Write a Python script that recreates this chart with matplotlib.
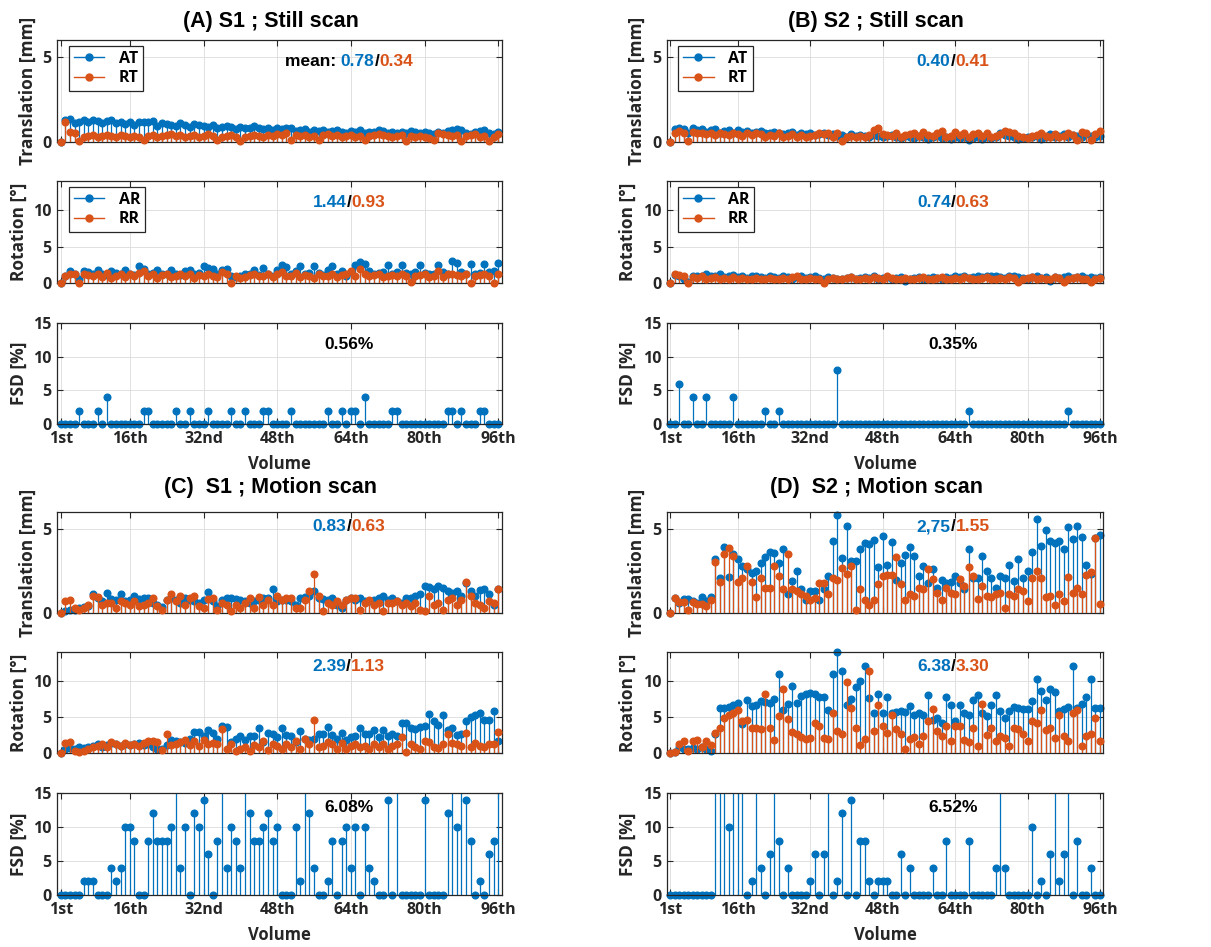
import numpy as np
import matplotlib
matplotlib.use("Agg")
import matplotlib.pyplot as plt
from matplotlib.lines import Line2D
from matplotlib.legend_handler import HandlerLine2D
from matplotlib.offsetbox import TextArea, HPacker, AnchoredOffsetbox

BLUE = '#0072BD'
ORANGE = '#D95319'

volumes = np.arange(1, 97)
tick_pos = [1, 16, 32, 48, 64, 80, 96]
tick_labels = ['1st', '16th', '32nd', '48th', '64th', '80th', '96th']

# ---- (A) S1 still scan ----
A_AT = [0, 1.3, 1.35, 1.1, 1.2, 1.3, 1.15, 1.3, 1.25, 1.1, 1.25, 1.3, 1.1, 1.2, 1.05, 1.15,
        1.0, 1.2, 1.15, 1.2, 1.25, 0.95, 1.1, 1.05, 1.0, 0.95, 1.1, 1.0, 0.9, 1.05, 1.0, 0.95,
        0.9, 1.0, 0.85, 0.9, 0.95, 0.9, 0.75, 0.9, 0.85, 0.8, 0.95, 0.8, 0.75, 0.85, 0.7, 0.8,
        0.75, 0.8, 0.85, 0.65, 0.7, 0.75, 0.6, 0.7, 0.65, 0.7, 0.6, 0.65, 0.7, 0.6, 0.55, 0.65,
        0.6, 0.7, 0.55, 0.6, 0.6, 0.7, 0.65, 0.5, 0.6, 0.55, 0.6, 0.5, 0.65, 0.6, 0.55, 0.6,
        0.5, 0.45, 0.6, 0.55, 0.65, 0.7, 0.75, 0.7, 0.5, 0.45, 0.6, 0.65, 0.7, 0.5, 0.45, 0.6]
A_RT = [0, 1.2, 0.6, 0.5, 0.05, 0.3, 0.35, 0.4, 0.3, 0.35, 0.4, 0.35, 0.3, 0.4, 0.35, 0.3,
        0.35, 0.3, 0.1, 0.35, 0.4, 0.3, 0.35, 0.4, 0.45, 0.35, 0.4, 0.3, 0.35, 0.4, 0.3, 0.35,
        0.45, 0.35, 0.1, 0.3, 0.35, 0.4, 0.3, 0.05, 0.3, 0.35, 0.4, 0.35, 0.3, 0.4, 0.35, 0.45,
        0.4, 0.5, 0.1, 0.4, 0.35, 0.4, 0.3, 0.35, 0.1, 0.4, 0.45, 0.35, 0.4, 0.3, 0.35, 0.4,
        0.3, 0.35, 0.1, 0.35, 0.4, 0.45, 0.4, 0.35, 0.3, 0.35, 0.4, 0.05, 0.35, 0.3, 0.35, 0.3,
        0.25, 0.1, 0.5, 0.45, 0.4, 0.35, 0.4, 0.05, 0.35, 0.4, 0.45, 0.3, 0.35, 0.05, 0.3, 0.45]
A_AR = [0, 1.0, 1.7, 1.2, 0.6, 1.7, 1.5, 1.2, 1.8, 1.3, 1.1, 1.7, 1.4, 1.2, 1.8, 1.3,
        1.1, 2.3, 1.9, 1.2, 1.4, 1.8, 1.3, 1.2, 1.8, 1.3, 1.1, 1.6, 1.8, 1.2, 1.4, 2.3,
        2.0, 1.9, 1.3, 1.8, 1.9, 0.9, 0.8, 1.0, 1.3, 1.2, 1.8, 1.1, 2.0, 1.3, 1.0, 1.8,
        2.5, 2.2, 1.3, 1.6, 2.3, 1.2, 1.4, 2.3, 1.4, 1.1, 1.8, 2.4, 1.3, 1.6, 1.0, 1.5,
        2.5, 2.9, 2.6, 1.6, 1.3, 1.4, 1.5, 2.5, 1.3, 1.5, 2.5, 1.4, 1.3, 1.5, 2.5, 1.4,
        1.2, 1.3, 2.5, 1.5, 1.3, 3.0, 2.7, 1.5, 1.2, 2.6, 1.3, 1.4, 2.6, 1.5, 1.6, 2.7]
A_RR = [0, 1.0, 1.2, 1.3, 0.05, 1.3, 1.1, 0.9, 1.2, 0.8, 1.4, 0.7, 1.0, 1.3, 0.8, 1.2,
        0.9, 1.4, 1.6, 0.9, 1.2, 0.7, 1.1, 1.3, 0.8, 1.0, 1.2, 0.9, 1.3, 0.7, 1.1, 0.9,
        1.3, 1.0, 0.8, 1.5, 1.2, 0.05, 0.9, 0.7, 0.8, 1.1, 1.2, 0.9, 1.0, 1.3, 0.8, 1.2,
        1.5, 1.0, 0.9, 1.4, 0.8, 1.1, 1.0, 0.7, 1.2, 1.0, 0.9, 1.3, 0.8, 1.1, 1.2, 1.7,
        1.0, 1.9, 1.2, 0.9, 1.1, 1.2, 0.8, 1.0, 1.1, 1.0, 1.2, 0.9, 0.1, 0.9, 1.1, 1.2,
        0.8, 1.0, 1.6, 0.8, 1.3, 1.2, 1.1, 0.9, 1.2, 0.05, 0.9, 1.1, 1.3, 0.9, 0.05, 1.2]
A_FSD = [0, 0, 0, 0, 2, 0, 0, 0, 2, 0, 4, 0, 0, 0, 0, 0,
         0, 0, 2, 2, 0, 0, 0, 0, 0, 2, 0, 0, 2, 0, 0, 0,
         2, 0, 0, 0, 0, 2, 0, 0, 2, 0, 0, 0, 2, 2, 0, 0,
         0, 0, 2, 0, 0, 0, 0, 0, 0, 0, 2, 0, 0, 2, 0, 2,
         2, 0, 4, 0, 0, 0, 0, 0, 2, 2, 0, 0, 0, 0, 0, 0,
         0, 0, 0, 0, 2, 2, 0, 2, 0, 0, 0, 2, 2, 0, 0, 0]

# ---- (B) S2 still scan ----
B_AT = [0, 0.75, 0.8, 0.75, 0.5, 0.8, 0.7, 0.75, 0.6, 0.7, 0.75, 0.5, 0.65, 0.7, 0.55, 0.7,
        0.6, 0.65, 0.55, 0.6, 0.65, 0.55, 0.5, 0.6, 0.55, 0.45, 0.5, 0.6, 0.4, 0.5, 0.45, 0.5,
        0.4, 0.45, 0.5, 0.4, 0.45, 0.35, 0.4, 0.3, 0.45, 0.35, 0.4, 0.35, 0.3, 0.4, 0.35, 0.3,
        0.35, 0.4, 0.3, 0.25, 0.35, 0.3, 0.25, 0.35, 0.3, 0.2, 0.3, 0.35, 0.25, 0.3, 0.2, 0.3,
        0.25, 0.3, 0.1, 0.25, 0.3, 0.2, 0.3, 0.25, 0.3, 0.5, 0.4, 0.35, 0.3, 0.2, 0.25, 0.3,
        0.3, 0.35, 0.2, 0.3, 0.45, 0.3, 0.35, 0.45, 0.3, 0.4, 0.35, 0.3, 0.45, 0.35, 0.3, 0.35]
B_RT = [0, 0.55, 0.65, 0.55, 0.05, 0.6, 0.55, 0.5, 0.45, 0.55, 0.4, 0.5, 0.45, 0.4, 0.5, 0.45,
        0.35, 0.5, 0.4, 0.55, 0.45, 0.3, 0.4, 0.35, 0.5, 0.3, 0.35, 0.45, 0.3, 0.4, 0.3, 0.35,
        0.4, 0.5, 0.45, 0.55, 0.3, 0.55, 0.05, 0.3, 0.35, 0.3, 0.35, 0.3, 0.4, 0.7, 0.8, 0.45,
        0.4, 0.35, 0.5, 0.3, 0.4, 0.45, 0.5, 0.35, 0.6, 0.4, 0.35, 0.5, 0.65, 0.3, 0.35, 0.6,
        0.4, 0.55, 0.3, 0.45, 0.5, 0.35, 0.55, 0.3, 0.35, 0.45, 0.65, 0.6, 0.5, 0.35, 0.3, 0.25,
        0.35, 0.4, 0.5, 0.35, 0.3, 0.45, 0.3, 0.35, 0.5, 0.4, 0.1, 0.6, 0.55, 0.1, 0.45, 0.65]
B_AR = [0, 1.1, 1.0, 0.6, 0.1, 1.0, 0.9, 1.0, 1.2, 0.9, 1.0, 1.2, 0.8, 0.9, 1.1, 0.8,
        1.0, 0.7, 0.9, 1.0, 0.8, 0.7, 0.9, 0.8, 0.7, 0.9, 0.8, 0.6, 0.8, 0.9, 0.7, 0.8,
        0.9, 0.7, 0.6, 0.8, 0.7, 0.6, 0.5, 0.7, 0.8, 0.6, 0.7, 0.8, 0.7, 0.9, 0.6, 0.7,
        0.8, 0.6, 0.7, 0.8, 0.3, 0.6, 0.7, 0.8, 0.6, 0.7, 0.8, 0.7, 0.6, 0.8, 0.7, 0.9,
        0.8, 0.9, 0.7, 0.8, 0.9, 0.8, 0.9, 1.0, 0.9, 0.8, 0.7, 1.0, 0.9, 0.8, 0.7, 0.6,
        0.8, 0.9, 0.7, 0.8, 0.3, 0.8, 0.7, 0.8, 0.9, 0.7, 0.8, 0.9, 0.7, 0.8, 0.7, 0.8]
B_RR = [0, 1.2, 1.1, 0.9, 0.05, 0.8, 0.7, 0.9, 0.6, 0.7, 0.8, 0.6, 0.7, 0.5, 0.8, 0.6,
        0.7, 0.6, 0.5, 0.7, 0.6, 0.5, 0.7, 0.6, 0.5, 0.7, 0.6, 0.8, 0.9, 0.6, 0.5, 0.7,
        0.6, 0.5, 0.05, 0.6, 0.7, 0.5, 0.6, 0.7, 0.8, 0.6, 0.5, 0.7, 0.6, 0.8, 0.7, 0.6,
        0.9, 0.7, 0.5, 0.6, 0.7, 0.5, 0.6, 0.7, 0.8, 0.6, 0.5, 0.7, 0.8, 0.6, 0.5, 0.7,
        0.6, 0.8, 0.7, 0.6, 0.5, 0.7, 0.8, 0.6, 0.5, 0.7, 0.6, 0.8, 0.7, 0.1, 0.6, 0.7,
        0.8, 0.6, 0.7, 0.5, 0.6, 0.8, 0.7, 0.1, 0.6, 0.7, 0.8, 0.6, 0.5, 0.1, 0.6, 0.7]
B_FSD = [0, 0, 6, 0, 0, 4, 0, 0, 4, 0, 0, 0, 0, 0, 4, 0,
         0, 0, 0, 0, 0, 2, 0, 0, 2, 0, 0, 0, 0, 0, 0, 0,
         0, 0, 0, 0, 0, 8, 0, 0, 0, 0, 0, 0, 0, 0, 0, 0,
         0, 0, 0, 0, 0, 0, 0, 0, 0, 0, 0, 0, 0, 0, 0, 0,
         0, 0, 2, 0, 0, 0, 0, 0, 0, 0, 0, 0, 0, 0, 0, 0,
         0, 0, 0, 0, 0, 0, 0, 0, 2, 0, 0, 0, 0, 0, 0, 0]

# ---- (C) S1 motion scan ----
C_AT = [0, 0.1, 0.15, 0.2, 0.3, 0.35, 0.4, 1.15, 0.9, 0.7, 1.2, 0.85, 0.8, 1.15, 0.7, 0.8,
        1.0, 0.85, 0.9, 0.9, 0.6, 0.5, 0.35, 0.8, 0.9, 0.8, 0.6, 0.9, 0.8, 0.7, 0.6, 0.8,
        1.25, 0.7, 0.4, 0.8, 0.9, 0.9, 0.85, 0.8, 0.7, 0.6, 0.7, 0.8, 0.9, 0.9, 1.4, 0.7,
        0.8, 0.8, 0.7, 0.5, 0.9, 0.95, 1.0, 1.3, 0.9, 0.85, 0.8, 0.9, 0.5, 0.3, 0.8, 0.9,
        0.8, 0.9, 0.7, 0.7, 0.8, 0.9, 1.0, 0.8, 0.9, 0.7, 0.6, 0.9, 0.9, 1.0, 1.1, 1.6,
        1.55, 1.4, 1.6, 1.5, 1.3, 1.2, 1.3, 1.0, 1.8, 1.3, 1.0, 1.35, 1.45, 1.1, 0.5, 1.45]
C_RT = [0, 0.7, 0.75, 0.3, 0.2, 0.3, 0.45, 1.0, 0.95, 0.5, 0.6, 0.6, 0.3, 0.7, 0.6, 0.5,
        0.7, 0.4, 0.5, 0.6, 0.9, 0.4, 0.15, 0.8, 1.1, 0.7, 1.0, 0.5, 0.9, 1.0, 0.4, 0.3,
        0.85, 0.9, 0.2, 0.6, 0.5, 0.1, 0.5, 0.3, 0.6, 0.9, 0.3, 0.95, 0.5, 0.8, 0.5, 1.0,
        0.8, 0.9, 0.9, 0.3, 0.3, 0.8, 1.3, 2.3, 1.0, 0.1, 0.6, 0.5, 0.7, 0.5, 0.8, 0.9,
        0.9, 0.2, 0.6, 0.8, 0.5, 0.6, 0.1, 0.6, 0.6, 0.7, 0.5, 0.6, 0.4, 0.6, 0.2, 0.1,
        1.0, 0.5, 0.6, 0.2, 0.8, 0.9, 0.5, 0.8, 1.85, 1.0, 0.6, 0.5, 0.3, 0.7, 0.6, 1.4]
C_AR = [0, 0.5, 0.7, 0.6, 0.8, 0.7, 0.9, 1.0, 1.2, 0.9, 1.1, 1.4, 1.2, 1.0, 1.3, 1.1,
        1.2, 1.4, 1.1, 1.3, 0.9, 0.6, 0.5, 1.1, 1.8, 1.6, 1.5, 1.4, 2.0, 2.9, 2.9, 2.4,
        3.2, 2.8, 2.0, 3.8, 3.6, 1.5, 1.9, 2.3, 1.8, 2.4, 2.3, 3.5, 1.5, 2.8, 2.6, 2.2,
        3.5, 2.5, 2.3, 1.5, 3.1, 2.0, 1.8, 1.9, 2.7, 2.6, 3.6, 2.5, 2.0, 2.8, 1.8, 2.2,
        2.4, 3.4, 2.6, 2.7, 3.2, 2.2, 3.2, 2.4, 2.6, 2.3, 4.1, 4.2, 3.4, 3.3, 3.6, 3.8,
        5.4, 4.4, 3.9, 5.2, 3.2, 3.4, 2.5, 2.7, 4.5, 5.0, 5.3, 5.6, 4.6, 4.6, 5.8, 1.7]
C_RR = [0, 1.4, 1.5, 0.3, 0.2, 0.3, 0.5, 0.8, 1.0, 1.2, 0.9, 1.5, 1.2, 1.0, 1.4, 1.1,
        1.3, 1.0, 1.4, 1.7, 1.6, 1.5, 0.4, 2.6, 1.1, 1.2, 1.5, 1.8, 1.1, 1.6, 1.0, 1.8,
        1.3, 1.4, 1.2, 3.3, 0.6, 1.2, 0.3, 0.5, 0.8, 0.3, 1.1, 0.9, 1.6, 0.4, 1.2, 1.0,
        0.6, 1.3, 0.8, 1.6, 0.6, 2.0, 1.2, 4.6, 0.8, 1.0, 1.5, 1.3, 0.6, 1.4, 0.5, 1.0,
        1.2, 0.8, 1.0, 0.6, 1.3, 0.9, 1.2, 0.5, 1.0, 1.2, 2.2, 0.2, 1.2, 0.8, 0.5, 1.6,
        1.5, 0.9, 0.7, 1.2, 2.6, 1.4, 1.2, 1.0, 2.8, 0.8, 1.4, 1.0, 0.8, 1.2, 1.3, 2.9]
C_FSD = [0, 0, 0, 0, 0, 2, 2, 2, 0, 0, 0, 4, 2, 4, 10, 10,
         8, 0, 0, 8, 12, 8, 8, 8, 10, 18, 4, 10, 0, 12, 10, 14,
         6, 0, 8, 20, 4, 10, 8, 4, 22, 12, 8, 8, 10, 12, 8, 10,
         0, 0, 0, 10, 2, 18, 12, 4, 0, 0, 2, 8, 0, 8, 10, 4,
         10, 0, 10, 4, 2, 0, 0, 14, 0, 20, 0, 0, 0, 0, 0, 14,
         0, 0, 0, 0, 12, 18, 10, 20, 14, 8, 0, 2, 0, 6, 8, 18]

# ---- (D) S2 motion scan ----
D_AT = [0, 0.9, 0.6, 0.85, 0.85, 0.7, 0.6, 0.95, 0.7, 0.95, 3.2, 2.1, 3.9, 2.15, 3.5, 3.2,
        2.8, 2.6, 2.4, 2.5, 2.95, 3.3, 3.65, 3.55, 3.0, 3.8, 1.1, 1.9, 2.5, 1.4, 0.75, 1.3,
        1.3, 0.8, 1.4, 2.2, 4.3, 5.85, 3.25, 5.15, 3.1, 3.1, 3.8, 4.15, 4.1, 4.35, 2.75, 4.55,
        2.85, 4.2, 1.95, 3.0, 3.45, 3.95, 3.4, 2.2, 2.8, 1.8, 2.6, 1.5, 1.95, 1.8, 1.85, 2.2,
        1.8, 1.4, 3.8, 2.1, 2.1, 3.4, 2.5, 2.1, 1.5, 2.2, 2.1, 2.85, 1.9, 3.2, 2.1, 2.5,
        3.6, 5.6, 4.0, 4.95, 4.3, 4.15, 4.3, 3.8, 5.1, 4.4, 5.15, 4.5, 2.85, 2.3, 4.45, 4.65]
D_RT = [0, 0.9, 0.65, 0.65, 0.15, 0.65, 0.55, 0.55, 0.4, 0.8, 3.05, 1.85, 3.5, 3.85, 3.4, 1.85,
        2.1, 2.8, 1.85, 0.95, 2.05, 1.5, 1.5, 2.8, 2.2, 1.4, 3.5, 1.4, 1.3, 1.15, 1.0, 0.8,
        0.9, 1.8, 1.8, 1.15, 2.1, 1.95, 2.7, 2.3, 2.8, 0.2, 1.4, 0.8, 0.5, 0.75, 1.75, 2.2,
        2.25, 2.25, 3.3, 1.75, 0.8, 1.1, 1.0, 1.5, 1.4, 2.6, 2.0, 1.2, 0.75, 1.5, 1.2, 1.1,
        2.0, 1.6, 2.75, 2.2, 0.85, 1.6, 1.0, 0.95, 1.1, 1.2, 0.3, 1.1, 1.0, 1.45, 1.3, 0.7,
        2.1, 2.5, 2.05, 0.95, 1.0, 0.5, 1.15, 0.7, 2.15, 1.2, 1.5, 1.1, 2.25, 2.45, 4.45, 0.55]
D_AR = [0, 0.1, 0.8, 0.6, 0.6, 0.7, 0.5, 0.9, 0.5, 0.3, 2.7, 6.3, 6.3, 6.4, 6.6, 7.0,
        4.0, 7.3, 6.5, 6.6, 7.2, 7.1, 7.0, 7.5, 11.0, 5.9, 6.8, 9.3, 7.0, 7.9, 8.2, 8.3,
        8.2, 7.8, 7.8, 6.0, 11.0, 14.0, 11.3, 6.6, 7.5, 9.2, 10.0, 12.0, 7.6, 5.6, 8.2, 5.6,
        7.7, 5.6, 5.7, 5.8, 5.7, 6.5, 5.2, 5.5, 5.3, 8.0, 4.6, 4.9, 4.1, 7.7, 6.7, 4.4,
        6.7, 5.5, 5.2, 7.4, 8.1, 5.5, 5.1, 6.6, 8.1, 5.8, 4.8, 5.8, 6.4, 6.3, 6.1, 6.1,
        7.2, 10.3, 8.6, 7.4, 8.9, 8.4, 5.8, 6.1, 6.4, 12.0, 6.2, 6.8, 7.7, 10.3, 6.3, 6.3]
D_RR = [0, 0.1, 1.3, 1.6, 0.3, 1.7, 1.8, 0.8, 1.6, 1.1, 2.8, 3.5, 4.9, 5.3, 5.6, 6.0,
        4.5, 4.6, 3.4, 3.4, 3.3, 8.2, 3.4, 1.8, 5.1, 8.9, 4.7, 2.9, 2.6, 2.2, 1.9, 2.1,
        4.2, 3.8, 2.1, 1.9, 5.6, 3.0, 2.7, 9.9, 6.2, 3.5, 1.1, 1.9, 11.3, 3.0, 6.6, 3.7,
        2.8, 5.3, 3.3, 2.6, 0.5, 2.0, 2.2, 1.3, 2.3, 4.4, 6.1, 3.1, 2.4, 3.7, 1.7, 3.8,
        3.7, 1.8, 1.5, 3.5, 1.0, 6.8, 2.5, 3.5, 1.6, 2.3, 2.1, 1.0, 3.4, 3.3, 2.7, 1.6,
        4.5, 4.2, 5.9, 3.2, 3.4, 2.1, 5.3, 2.3, 1.6, 5.6, 6.0, 1.0, 2.3, 2.7, 4.9, 1.6]
D_FSD = [0, 0, 0, 0, 0, 0, 0, 0, 0, 0, 40, 52, 46, 10, 54, 48,
         42, 0, 2, 30, 4, 0, 6, 28, 8, 0, 4, 0, 0, 0, 0, 2,
         6, 0, 6, 26, 0, 2, 12, 0, 14, 0, 8, 8, 2, 0, 2, 2,
         2, 0, 0, 6, 0, 4, 0, 0, 0, 0, 4, 0, 0, 8, 0, 0,
         0, 0, 8, 0, 0, 0, 0, 0, 4, 30, 4, 0, 0, 0, 0, 0,
         10, 0, 2, 0, 6, 28, 2, 6, 26, 0, 8, 0, 0, 4, 0, 0]

titles = ['(A) S1 ; Still scan', '(B) S2 ; Still scan',
          '(C)  S1 ; Motion scan', '(D)  S2 ; Motion scan']
means_t = [('0.78', '0.34'), ('0.40', '0.41'), ('0.83', '0.63'), ('2,75', '1.55')]
means_r = [('1.44', '0.93'), ('0.74', '0.63'), ('2.39', '1.13'), ('6.38', '3.30')]
means_fsd = ['0.56%', '0.35%', '6.08%', '6.52%']

panels = [(A_AT, A_RT, A_AR, A_RR, A_FSD), (B_AT, B_RT, B_AR, B_RR, B_FSD),
          (C_AT, C_RT, C_AR, C_RR, C_FSD), (D_AT, D_RT, D_AR, D_RR, D_FSD)]

W, H = 1211, 947
fig = plt.figure(figsize=(W / 100, H / 100), dpi=100)
fig.patch.set_facecolor('white')

cols = [(57.3, 501.7), (666.7, 1103.3)]
rows = [[(40, 142), (181, 283), (323, 424)],
        [(512, 613), (652, 753), (793, 895)]]
title_y = [21, 487]
text_y = [0.79, 0.855]

LABEL_FONT = ['Open Sans', 'DejaVu Sans']
TEXT_FONT = 'Liberation Sans'


class EndMarkerHandler(HandlerLine2D):
    def get_xdata(self, legend, xdescent, ydescent, width, height, fontsize):
        xdata, _ = super().get_xdata(legend, xdescent, ydescent, width, height, fontsize)
        return xdata, [xdata[-1]]


def make_ax(col, row, sub):
    x0, x1 = cols[col]
    y0, y1 = rows[row][sub]
    ax = fig.add_axes([x0 / W, 1 - y1 / H, (x1 - x0) / W, (y1 - y0) / H])
    ax.set_xlim(0.25, 96.75)
    ax.set_xticks(tick_pos)
    ax.set_xticklabels(tick_labels)
    ax.grid(True, color='#dcdcdc', lw=0.6)
    ax.set_axisbelow(True)
    for s in ax.spines.values():
        s.set_color('#262626')
        s.set_linewidth(0.9)
    ax.tick_params(direction='in', top=True, right=True, length=4, width=0.8,
                   color='#262626', labelsize=11.5, labelcolor='#262626')
    ax.tick_params(axis='x', pad=5)
    ax.tick_params(axis='y', pad=4)
    for lab in ax.get_xticklabels() + ax.get_yticklabels():
        lab.set_fontweight('bold')
        lab.set_fontfamily(LABEL_FONT)
    return ax


def stems(ax, y, color, top, z):
    y = np.asarray(y, dtype=float)
    markerline, stemlines, baseline = ax.stem(volumes, y, basefmt=' ')
    stemlines.set_color(color)
    stemlines.set_linewidth(0.9)
    stemlines.set_zorder(z)
    markerline.set_ydata(np.where(y > top, np.nan, y))
    markerline.set_color(color)
    markerline.set_markersize(4.8)
    markerline.set_clip_on(False)
    markerline.set_zorder(z + 0.5)
    baseline.set_visible(False)


def add_text(ax, parts, yfrac):
    areas = [TextArea(t, textprops=dict(color=c, fontweight='bold', fontsize=12.5,
                                         family=TEXT_FONT)) for t, c in parts]
    box = HPacker(children=areas, align='baseline', pad=0, sep=0)
    anch = AnchoredOffsetbox(loc='center', child=box, pad=0, frameon=False, borderpad=0,
                             bbox_to_anchor=(0.656, yfrac), bbox_transform=ax.transAxes)
    ax.add_artist(anch)


def add_legend(ax, names):
    handles = [Line2D([0], [0], color=BLUE, marker='o', ms=5, lw=1),
               Line2D([0], [0], color=ORANGE, marker='o', ms=5, lw=1)]
    leg = ax.legend(handles, names, loc='upper left', bbox_to_anchor=(0.027, 0.94),
                    borderaxespad=0, fancybox=False, framealpha=1, edgecolor='#262626',
                    prop={'weight': 'bold', 'size': 11.5, 'family': LABEL_FONT},
                    handlelength=1.9, handletextpad=0.9, labelspacing=0.2,
                    borderpad=0.3, numpoints=1,
                    handler_map={Line2D: EndMarkerHandler()})
    leg.get_frame().set_linewidth(0.9)


label_kw = dict(fontsize=12.5, fontweight='bold', family=LABEL_FONT, color='#262626',
                labelpad=4)

for p, (at, rt, ar, rr, fsd) in enumerate(panels):
    col, row = p % 2, p // 2
    x0, x1 = cols[col]
    fig.text(((x0 + x1) / 2 - 9) / W, 1 - title_y[row] / H, titles[p], ha='center',
             va='center', fontsize=15.5, fontweight='bold', family=TEXT_FONT)

    ax_t = make_ax(col, row, 0)
    stems(ax_t, at, BLUE, 6, 2)
    stems(ax_t, rt, ORANGE, 6, 3)
    ax_t.set_ylim(0, 6)
    ax_t.set_yticks([0, 5])
    ax_t.tick_params(labelbottom=False)
    ax_t.set_ylabel('Translation [mm]', **label_kw)
    tparts = [(means_t[p][0], BLUE), ('/', 'black'), (means_t[p][1], ORANGE)]
    if p == 0:
        tparts = [('mean: ', 'black')] + tparts
    add_text(ax_t, tparts, text_y[row])

    ax_r = make_ax(col, row, 1)
    stems(ax_r, ar, BLUE, 14, 2)
    stems(ax_r, rr, ORANGE, 14, 3)
    ax_r.set_ylim(0, 14)
    ax_r.set_yticks([0, 5, 10])
    ax_r.tick_params(labelbottom=False)
    ax_r.set_ylabel('Rotation [°]', **label_kw)
    add_text(ax_r, [(means_r[p][0], BLUE), ('/', 'black'), (means_r[p][1], ORANGE)],
             text_y[row])

    ax_f = make_ax(col, row, 2)
    stems(ax_f, fsd, BLUE, 15, 2)
    ax_f.set_ylim(0, 15)
    ax_f.set_yticks([0, 5, 10, 15])
    ax_f.set_ylabel('FSD [%]', **label_kw)
    ax_f.set_xlabel('Volume', fontsize=12, fontweight='bold', family=LABEL_FONT,
                    color='#262626', labelpad=6)
    add_text(ax_f, [(means_fsd[p], 'black')], text_y[row])

    if row == 0:
        add_legend(ax_t, ['AT', 'RT'])
        add_legend(ax_r, ['AR', 'RR'])

fig.savefig('out.png', dpi=100, facecolor='white')
